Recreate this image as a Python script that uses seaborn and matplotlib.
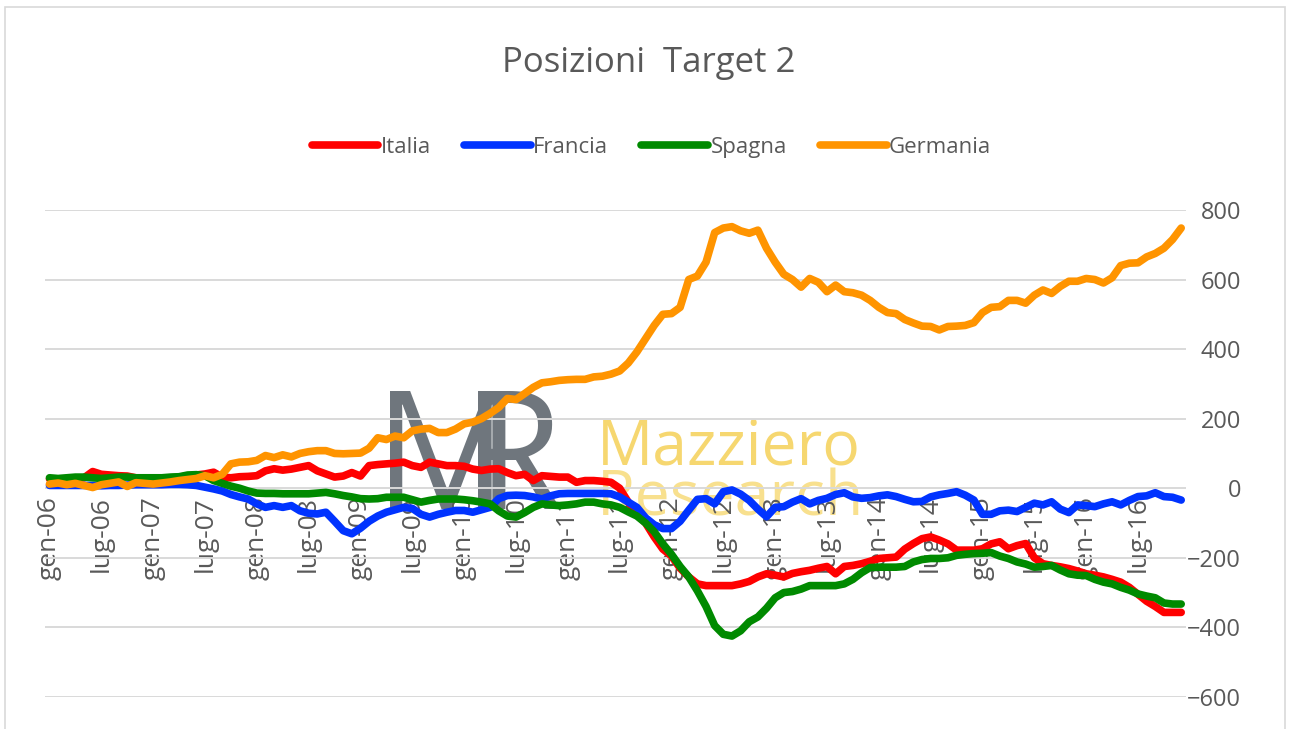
import numpy as np
import pandas as pd
import seaborn as sns
import matplotlib.pyplot as plt
from matplotlib.patches import Rectangle

# etichette mensili gen-06 ... dic-16
mesi = ["gen", "feb", "mar", "apr", "mag", "giu", "lug", "ago", "set", "ott", "nov", "dic"]
anni = list(range(2006, 2017))
etichette = [m + "-" + str(a)[2:] for a in anni for m in mesi]

paesi = ["Italia", "Francia", "Spagna", "Germania"]
colori = ["#ff0000", "#0033ff", "#008a00", "#ff9400"]

# saldi Target 2 (mld euro)
italia = [27, 17, 25, 28, 30, 48, 40, 38, 36, 35, 30, 28,
          27, 28, 30, 32, 35, 38, 41, 46, 32, 30, 33, 34,
          36, 50, 56, 52, 55, 60, 65, 50, 41, 32, 35, 45,
          35, 65, 68, 70, 72, 75, 65, 60, 75, 70, 65, 65,
          63, 55, 51, 55, 56, 45, 36, 40, 22, 36, 34, 32,
          32, 17, 22, 22, 20, 17, 0, -40, -75, -100, -140, -175,
          -195, -230, -255, -275, -280, -280, -280, -280, -275, -268, -255, -246,
          -250, -255, -245, -240, -236, -230, -225, -246, -225, -222, -217, -210,
          -202, -200, -198, -175, -159, -145, -140, -149, -160, -178, -178, -178,
          -174, -160, -154, -174, -165, -159, -200, -217, -222, -226, -231, -238,
          -246, -250, -255, -262, -270, -285, -305, -325, -340, -357, -357, -357]

francia = [8, 8, 8, 8, 8, 8, 7, 8, 8, 9, 10, 10,
           10, 10, 11, 11, 10, 8, 3, -2, -8, -18, -25, -31,
           -45, -55, -50, -55, -50, -65, -72, -74, -69, -95, -122, -131,
           -115, -95, -80, -69, -62, -55, -58, -75, -83, -75, -69, -64,
           -64, -69, -62, -55, -30, -21, -20, -21, -25, -31, -22, -16,
           -15, -15, -15, -15, -15, -16, -25, -40, -55, -85, -105, -116,
           -116, -95, -63, -32, -30, -45, -10, -5, -17, -35, -60, -82,
           -55, -53, -40, -30, -45, -35, -29, -18, -13, -25, -29, -27,
           -22, -19, -24, -32, -39, -38, -25, -19, -15, -10, -20, -34,
           -75, -75, -65, -63, -67, -55, -43, -48, -39, -60, -70, -48,
           -50, -53, -45, -39, -48, -35, -24, -22, -13, -24, -26, -34]

spagna = [30, 28, 30, 32, 32, 30, 28, 30, 32, 32, 30, 30,
          30, 30, 32, 33, 38, 39, 36, 22, 14, 6, 0, -8,
          -14, -15, -15, -16, -16, -16, -16, -14, -12, -16, -21, -25,
          -30, -31, -30, -26, -26, -26, -33, -40, -35, -31, -31, -31,
          -33, -36, -40, -45, -65, -80, -83, -70, -55, -45, -48, -50,
          -48, -45, -40, -40, -45, -48, -55, -68, -80, -100, -125, -160,
          -190, -225, -255, -295, -340, -395, -420, -425, -410, -384, -370, -345,
          -315, -300, -297, -290, -280, -280, -280, -280, -275, -262, -243, -228,
          -227, -227, -227, -225, -212, -205, -202, -202, -200, -193, -190, -188,
          -187, -185, -195, -202, -212, -218, -227, -225, -222, -235, -246, -250,
          -251, -262, -270, -275, -285, -293, -304, -310, -315, -330, -333, -333]

germania = [12, 15, 10, 14, 8, 2, 10, 14, 18, 5, 16, 14,
            12, 15, 18, 22, 25, 28, 36, 30, 40, 70, 75, 76,
            80, 94, 88, 96, 90, 100, 105, 108, 108, 100, 99, 100,
            101, 115, 145, 140, 150, 145, 165, 170, 172, 160, 160, 170,
            185, 190, 200, 215, 232, 258, 255, 272, 290, 303, 306, 310,
            312, 313, 313, 320, 322, 328, 337, 360, 392, 430, 468, 500,
            502, 520, 600, 610, 650, 735, 748, 752, 740, 733, 742, 690,
            650, 615, 600, 578, 603, 592, 565, 584, 565, 562, 555, 540,
            520, 505, 502, 485, 475, 466, 465, 455, 465, 466, 468, 476,
            505, 520, 522, 540, 540, 532, 555, 570, 560, 580, 595, 595,
            603, 600, 590, 605, 640, 647, 648, 665, 675, 690, 715, 748]

df = pd.DataFrame({"mese": np.arange(len(etichette)),
                   "Italia": italia, "Francia": francia,
                   "Spagna": spagna, "Germania": germania})
lungo = df.melt(id_vars="mese", var_name="paese", value_name="valore")

sns.set_style("white")
plt.rcParams["font.family"] = ["Open Sans", "DejaVu Sans"]
grigio = "#595959"

fig, ax = plt.subplots(figsize=(12.9, 7.29), dpi=100)
fig.subplots_adjust(left=0.035, right=0.919, bottom=0.044, top=0.712)

# watermark (sotto le linee)
ax.text(0.290, 0.474, "M", transform=fig.transFigure, ha="left", va="top",
        fontsize=118, color="#6f767d", zorder=0.2)
ax.text(0.358, 0.474, "R", transform=fig.transFigure, ha="left", va="top",
        fontsize=118, color="#6f767d", zorder=0.2)
ax.text(0.463, 0.428, "Mazziero", transform=fig.transFigure, ha="left", va="top",
        fontsize=45, color="#f6d770", zorder=0.2)
ricerca = ax.text(0.463, 0.358, "Research", transform=fig.transFigure, ha="left",
                  va="top", fontsize=45, color="#f8e08e", zorder=0.2)
ricerca.set_clip_path(Rectangle((-0.5, 0), 132, 800, transform=ax.transData))

sns.lineplot(data=lungo, x="mese", y="valore", hue="paese", hue_order=paesi,
             palette=colori, linewidth=5.5, sort=False, ax=ax, zorder=2)
for linea in ax.get_lines():
    linea.set_solid_joinstyle("round")
    linea.set_solid_capstyle("round")

# asse delle categorie che incrocia a 0
for lato in ax.spines.values():
    lato.set_visible(False)
ax.spines["bottom"].set_position(("data", 0))

ax.set_xlim(-0.5, len(etichette) - 0.5)
ax.set_ylim(-600, 800)
ax.set_yticks(range(-600, 801, 200))
ax.set_xticks(df["mese"][::6])
ax.set_xticklabels(etichette[::6])
ax.set_xlabel("")
ax.set_ylabel("")

ax.set_axisbelow(True)
ax.grid(axis="y", color="#d9d9d9", linewidth=1.4)
ax.grid(axis="x", visible=False)

ax.yaxis.tick_right()
ax.tick_params(axis="both", length=0, labelcolor=grigio)
ax.tick_params(axis="y", pad=40, labelsize=17)
ax.tick_params(axis="x", pad=6, labelrotation=90, labelsize=19)
for et in ax.get_yticklabels():
    et.set_horizontalalignment("right")

sns.move_legend(ax, "upper center", bbox_to_anchor=(0.505, 0.84),
                bbox_transform=fig.transFigure, ncol=4, frameon=False,
                title=None, fontsize=16, handlelength=3, handletextpad=0.1,
                columnspacing=1.5)
for t in ax.get_legend().get_texts():
    t.set_color(grigio)

fig.text(0.503, 0.913, "Posizioni  Target 2", ha="center", va="center",
         fontsize=25, color=grigio)
fig.patches.append(Rectangle((0.004, -0.01), 0.992, 1.0, transform=fig.transFigure,
                             fill=False, edgecolor="#d9d9d9", linewidth=1.2))

fig.savefig("out.png", dpi=100)
